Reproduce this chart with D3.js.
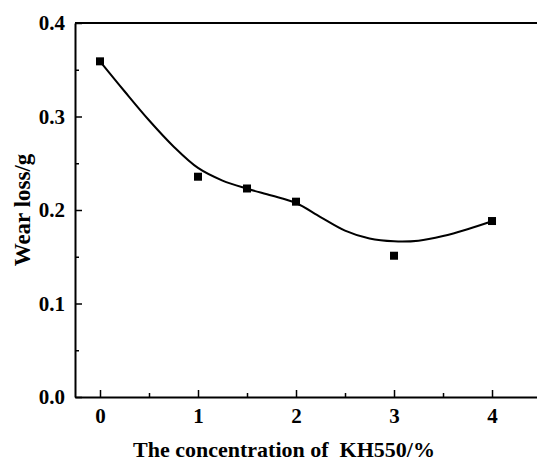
<!DOCTYPE html>
<html>
<head>
<meta charset="utf-8">
<script src="https://cdn.jsdelivr.net/npm/d3@7"></script>
<style>
  body { margin: 0; background: #fff; }
  svg { display: block; }
</style>
</head>
<body>
<svg id="canvas"></svg>
<script>
// measured points
let concentration = [0, 1, 1.5, 2, 3, 4];
let wearLoss = [0.359, 0.2356, 0.223, 0.2089, 0.1511, 0.1882];

// fitted curve
let curveX = [0, 0.25, 0.5, 0.75, 1.0, 1.25, 1.5, 1.75, 2.0, 2.25, 2.5, 2.75, 3.0, 3.25, 3.5, 3.75, 4.0];
let curveY = [0.359, 0.327, 0.296, 0.268, 0.245, 0.2315, 0.2228, 0.2155, 0.2075, 0.1925, 0.178, 0.1695, 0.1665, 0.1672, 0.1722, 0.1795, 0.188];

let xTicks = [0, 1, 2, 3, 4];
let yTicks = [0.0, 0.1, 0.2, 0.3, 0.4];

let width = 537;
let height = 469;
let padLeft = 75, padRight = 537, padTop = 23, padBottom = 397;
let serif = '"Liberation Serif", "Times New Roman", Times, serif';

let canvas = d3.select('#canvas')
  .attr('width', width)
  .attr('height', height);

let xScale = d3.scaleLinear()
  .domain([-0.2551, 4.459])
  .range([padLeft, padRight]);

let yScale = d3.scaleLinear()
  .domain([0, 0.4])
  .range([padBottom, padTop]);

// top frame line
canvas.append('line')
  .attr('x1', padLeft).attr('x2', padRight)
  .attr('y1', padTop).attr('y2', padTop)
  .attr('stroke', '#000').attr('stroke-width', 2);

let drawAxis = () => {
  let xAxis = d3.axisBottom(xScale)
    .tickValues(xTicks)
    .tickFormat(d3.format('d'))
    .tickSizeInner(-7).tickSizeOuter(0).tickPadding(11);

  canvas.append('g')
    .attr('transform', 'translate(0,' + padBottom + ')')
    .call(xAxis);

  let xMinor = d3.axisBottom(xScale)
    .tickValues([0.5, 1.5, 2.5, 3.5])
    .tickFormat('')
    .tickSizeInner(-4).tickSizeOuter(0);

  let gxm = canvas.append('g')
    .attr('transform', 'translate(0,' + padBottom + ')')
    .call(xMinor);
  gxm.select('.domain').remove();

  let yAxis = d3.axisLeft(yScale)
    .tickValues(yTicks)
    .tickFormat(d3.format('.1f'))
    .tickSizeInner(-7).tickSizeOuter(0).tickPadding(10);

  canvas.append('g')
    .attr('transform', 'translate(' + padLeft + ',0)')
    .call(yAxis);

  let yMinor = d3.axisLeft(yScale)
    .tickValues([0.05, 0.15, 0.25, 0.35])
    .tickFormat('')
    .tickSizeInner(-4).tickSizeOuter(0);

  let gym = canvas.append('g')
    .attr('transform', 'translate(' + padLeft + ',0)')
    .call(yMinor);
  gym.select('.domain').remove();

  canvas.selectAll('.domain').attr('stroke-width', 2);
  canvas.selectAll('.tick line').attr('stroke-width', 1.5);
  canvas.selectAll('.tick text')
    .style('font-size', '21px')
    .style('font-family', serif)
    .style('font-weight', 'bold')
    .style('fill', '#000');

  canvas.append('text')
    .attr('x', 284)
    .attr('y', 457)
    .attr('text-anchor', 'middle')
    .style('font-size', '22px')
    .style('font-family', serif)
    .style('font-weight', 'bold')
    .style('white-space', 'pre')
    .text('The concentration of  KH550/%');

  canvas.append('text')
    .attr('transform', 'translate(30,' + ((padTop + padBottom) / 2) + ') rotate(-90)')
    .attr('text-anchor', 'middle')
    .style('font-size', '23px')
    .style('font-family', serif)
    .style('font-weight', 'bold')
    .text('Wear loss/g');
};

let drawCurve = () => {
  let pts = curveX.map((x, i) => [x, curveY[i]]);
  let line = d3.line()
    .x(d => xScale(d[0]))
    .y(d => yScale(d[1]))
    .curve(d3.curveCatmullRom);
  canvas.append('path')
    .attr('d', line(pts))
    .attr('fill', 'none')
    .attr('stroke', '#000')
    .attr('stroke-width', 2);
};

let drawPoints = () => {
  let s = 8;
  canvas.selectAll('rect.pt')
    .data(concentration)
    .enter()
    .append('rect')
    .attr('class', 'pt')
    .attr('x', (d) => xScale(d) - s / 2)
    .attr('y', (d, i) => yScale(wearLoss[i]) - s / 2)
    .attr('width', s)
    .attr('height', s)
    .attr('fill', '#000');
};

drawAxis();
drawCurve();
drawPoints();
</script>
</body>
</html>
